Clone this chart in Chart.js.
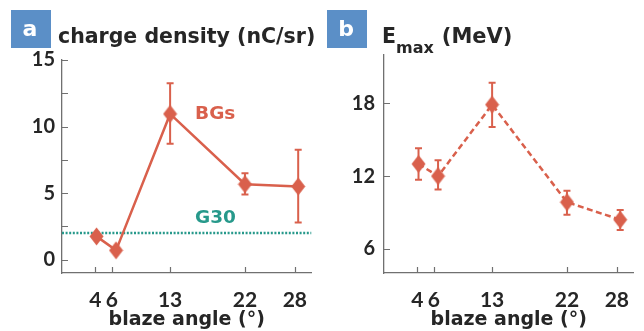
<!DOCTYPE html>
<html><head><meta charset="utf-8">
<script src="https://cdn.jsdelivr.net/npm/chart.js@4/dist/chart.umd.min.js"></script>
<style>
html,body{margin:0;padding:0;background:#fff;}
#wrap{position:relative;width:644px;height:331px;overflow:hidden;background:#fff;}
canvas{position:absolute;top:0;}
</style></head><body>
<div id="wrap">
<canvas id="ca" width="322" height="331" style="left:0;width:322px;height:331px"></canvas>
<canvas id="cb" width="322" height="331" style="left:322px;width:322px;height:331px"></canvas>
</div>
<script>
// ---- data ----
const xTickVals = [4, 6, 13, 22, 28];
const xPositions = [4.15, 6.5, 13, 22, 28.4];
const chargeVals = [1.75, 0.7, 10.95, 5.67, 5.5];
const chargeLo = [null, null, 8.7, 4.9, 2.8];
const chargeHi = [null, null, 13.25, 6.5, 8.25];
const g30Val = 2.0;
const emaxVals = [13.0, 12.0, 17.9, 9.85, 8.4];
const emaxLo = [11.7, 10.9, 16.05, 8.8, 7.55];
const emaxHi = [14.3, 13.3, 19.7, 10.8, 9.2];
const yTicksA = [0, 5, 10, 15];
const yMinorA = [2.5, 7.5, 12.5];
const yTicksB = [6, 12, 18];
const xTitle = 'blaze angle (°)';

// ---- style ----
const NUMFONT = 'Lato';
const WORDFONT = '"DejaVu Sans"';
const RED = '#d9604c';
const TEAL = '#27998b';
const AXIS = '#707070';
const TEXT = '#262626';
const BOX = '#5b8fc7';
Chart.defaults.font.family = NUMFONT;

function diamond(color) {
  const c = document.createElement('canvas');
  c.width = 15; c.height = 19;
  const g = c.getContext('2d');
  g.fillStyle = color;
  g.beginPath();
  g.moveTo(7.5, 0.5); g.lineTo(14.5, 9.5); g.lineTo(7.5, 18.5); g.lineTo(0.5, 9.5);
  g.closePath(); g.fill();
  return c;
}
const DIA = diamond(RED);

const decor = {
  id: 'decor',
  beforeDatasetsDraw(chart, args, opts) {
    const ctx = chart.ctx, ys = chart.scales.y;
    ctx.save();
    chart.data.datasets.forEach((ds, di) => {
      if (!ds.errLo) return;
      const meta = chart.getDatasetMeta(di);
      ctx.strokeStyle = ds.borderColor; ctx.lineWidth = 2;
      ds.errLo.forEach((lo, i) => {
        const hi = ds.errHi[i];
        if (lo == null || hi == null) return;
        const x = meta.data[i].x, y1 = ys.getPixelForValue(lo), y2 = ys.getPixelForValue(hi);
        ctx.beginPath();
        ctx.moveTo(x, y1); ctx.lineTo(x, y2);
        ctx.moveTo(x - 3.5, y1); ctx.lineTo(x + 3.5, y1);
        ctx.moveTo(x - 3.5, y2); ctx.lineTo(x + 3.5, y2);
        ctx.stroke();
      });
    });
    ctx.restore();
  },
  afterDraw(chart, args, opts) {
    const ctx = chart.ctx, xs = chart.scales.x, ys = chart.scales.y, ca = chart.chartArea;
    ctx.save();
    // inward ticks
    ctx.strokeStyle = AXIS; ctx.lineWidth = 1.2;
    ctx.beginPath();
    (opts.yTicks || []).forEach(v => {
      const y = Math.round(ys.getPixelForValue(v)) + 0.5;
      ctx.moveTo(ca.left, y); ctx.lineTo(ca.left + 6, y);
    });
    xTickVals.forEach(v => {
      const x = Math.round(xs.getPixelForValue(v)) + 0.5;
      ctx.moveTo(x, ca.bottom); ctx.lineTo(x, ca.bottom - 6);
    });
    ctx.stroke();
    // panel box
    ctx.fillStyle = BOX;
    ctx.fillRect(opts.boxX, 10, 40, 38);
    ctx.fillStyle = '#fff';
    ctx.font = 'bold 22px ' + WORDFONT;
    ctx.textAlign = 'center'; ctx.textBaseline = 'alphabetic';
    ctx.fillText(opts.letter, opts.boxX + 19, 36);
    // title
    ctx.fillStyle = TEXT; ctx.textAlign = 'left';
    let x = opts.titleX;
    opts.title.forEach(part => {
      ctx.font = 'bold ' + part.size + 'px ' + WORDFONT;
      ctx.fillText(part.text, x + (part.dx || 0), 43 + (part.dy || 0));
      x += (part.dx || 0) + ctx.measureText(part.text).width;
    });
    // annotations
    (opts.labels || []).forEach(l => {
      ctx.fillStyle = l.color;
      ctx.font = 'bold 18.5px ' + WORDFONT;
      ctx.textAlign = 'left'; ctx.textBaseline = 'middle';
      ctx.fillText(l.text, xs.getPixelForValue(l.x), ys.getPixelForValue(l.y));
    });
    ctx.restore();
  }
};

function scales(yMin, yMax, yTicks, yPad) {
  return {
    x: {
      type: 'linear', min: 0, max: 30,
      afterBuildTicks: s => { s.ticks = xTickVals.map(v => ({ value: v })); },
      afterFit: s => { s.height = 58; s.paddingLeft = 0; s.paddingRight = 0; },
      grid: { drawOnChartArea: false, drawTicks: false },
      border: { display: true, color: AXIS, width: 1.3 },
      ticks: { autoSkip: false, maxRotation: 0, padding: 15, color: TEXT,
               font: { size: 21, weight: 'bold' }, callback: v => String(v) },
      title: { display: true, text: xTitle, color: TEXT,
               font: { family: WORDFONT, size: 19, weight: 'bold' }, padding: { top: 0, bottom: 0 } }
    },
    y: {
      type: 'linear', min: yMin, max: yMax,
      afterBuildTicks: s => { s.ticks = yTicks.map(v => ({ value: v })); },
      afterFit: s => { s.width = 62; s.paddingTop = 0; s.paddingBottom = 0; },
      grid: { drawOnChartArea: false, drawTicks: false },
      border: { display: true, color: AXIS, width: 1.3 },
      ticks: { padding: yPad, color: TEXT, font: { size: 20, weight: 'bold' }, callback: v => String(v) }
    }
  };
}

new Chart(document.getElementById('ca'), {
  type: 'line',
  data: { datasets: [
    { label: 'BGs', data: xPositions.map((x, i) => ({ x, y: chargeVals[i] })),
      errLo: chargeLo, errHi: chargeHi,
      borderColor: RED, backgroundColor: RED, borderWidth: 2.5,
      pointStyle: DIA, pointRadius: 8, pointHoverRadius: 8, tension: 0 },
    { label: 'G30', data: [{ x: 0, y: g30Val }, { x: 30, y: g30Val }],
      borderColor: TEAL, borderWidth: 2.5, borderDash: [2, 1.6], pointRadius: 0 }
  ]},
  options: {
    responsive: false, animation: false, devicePixelRatio: 1,
    layout: { padding: { top: 60, right: 7, left: 0, bottom: 0 } },
    plugins: { legend: { display: false }, tooltip: { enabled: false },
      decor: { boxX: 11, letter: 'a', titleX: 58,
        title: [{ text: 'charge density (nC/sr)', size: 20.5 }],
        yTicks: yTicksA.concat(yMinorA),
        labels: [{ text: 'BGs', x: 16.0, y: 10.95, color: RED }, { text: 'G30', x: 16.0, y: 3.1, color: TEAL }] } },
    scales: scales(-1, 15, yTicksA, 7)
  },
  plugins: [decor]
});

new Chart(document.getElementById('cb'), {
  type: 'line',
  data: { datasets: [
    { label: 'Emax', data: xPositions.map((x, i) => ({ x, y: emaxVals[i] })),
      errLo: emaxLo, errHi: emaxHi,
      borderColor: RED, backgroundColor: RED, borderWidth: 2.5, borderDash: [6, 3.5],
      pointStyle: DIA, pointRadius: 8, pointHoverRadius: 8, tension: 0 }
  ]},
  options: {
    responsive: false, animation: false, devicePixelRatio: 1,
    layout: { padding: { top: 55, right: 7, left: 0, bottom: 0 } },
    plugins: { legend: { display: false }, tooltip: { enabled: false },
      decor: { boxX: 5, letter: 'b', titleX: 60,
        title: [{ text: 'E', size: 20.5 }, { text: 'max', size: 16, dy: 10 }, { text: '(MeV)', size: 21, dx: 8 }],
        yTicks: yTicksB, labels: [] } },
    scales: scales(4, 22, yTicksB, 9)
  },
  plugins: [decor]
});
</script>
</body></html>
